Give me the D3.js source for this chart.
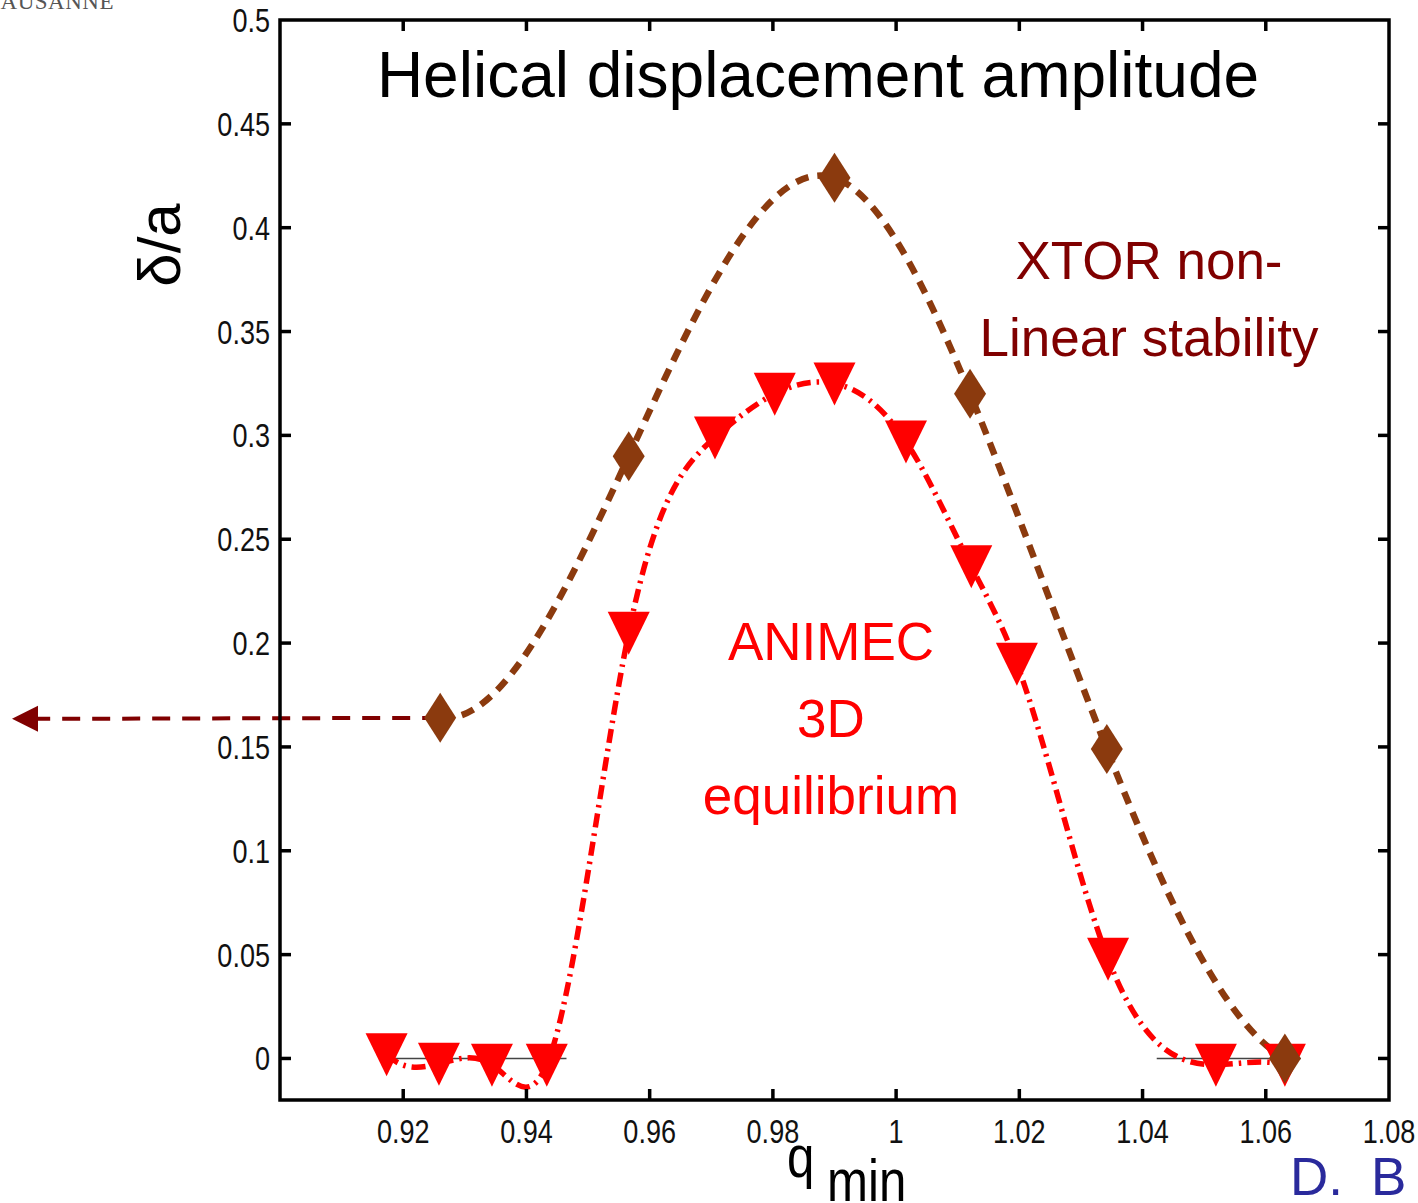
<!DOCTYPE html>
<html>
<head>
<meta charset="utf-8">
<script src="https://cdn.jsdelivr.net/npm/d3@7"></script>
<style>
  html, body { margin: 0; padding: 0; background: #fff; overflow: hidden; }
  svg { display: block; }
</style>
</head>
<body>
<svg id="chart" width="1418" height="1203"></svg>
<script>
// ---------- data ----------
const xTicks = [0.92, 0.94, 0.96, 0.98, 1.00, 1.02, 1.04, 1.06, 1.08];
const xTickLabels = ["0.92", "0.94", "0.96", "0.98", "1", "1.02", "1.04", "1.06", "1.08"];
const yTicks = [0, 0.05, 0.10, 0.15, 0.20, 0.25, 0.30, 0.35, 0.40, 0.45, 0.50];
const yTickLabels = ["0", "0.05", "0.1", "0.15", "0.2", "0.25", "0.3", "0.35", "0.4", "0.45", "0.5"];

// XTOR non-linear stability (diamonds)
const xtorQ = [0.926, 0.9566, 0.990, 1.012, 1.0342, 1.0631];
const xtorDelta = [0.164, 0.290, 0.424, 0.320, 0.149, 0.000];

// ANIMEC 3D equilibrium (triangles)
const animecQ = [0.9173, 0.9258, 0.9344, 0.9433, 0.9566, 0.9706, 0.9803, 0.990, 1.0016, 1.0122, 1.0196, 1.0344, 1.0519, 1.0631];
const animecDelta = [0.002, -0.0025, -0.003, -0.003, 0.205, 0.299, 0.320, 0.325, 0.297, 0.237, 0.190, 0.048, -0.003, -0.003];

// thin zero reference segments [qStart, qEnd]
const zeroSegments = [[0.9185, 0.9465], [1.0423, 1.0657]];

// ---------- layout ----------
const svg = d3.select("#chart");
const x = d3.scaleLinear().domain([0.90, 1.08]).range([280, 1389]);
const y = d3.scaleLinear().domain([-0.02, 0.50]).range([1100, 20]);

const brown = "#8b3a0e";
const maroon = "#800000";
const red = "#ff0000";
const sans = "'Liberation Sans', Arial, Helvetica, sans-serif";

// narrow text: Liberation Sans squeezed horizontally
function narrowText(parent, tx, ty, anchor, size, str, fill) {
  const g = parent.append("g").attr("transform", `translate(${tx},${ty}) scale(0.82,1)`);
  g.append("text").attr("x", 0).attr("y", 0).attr("text-anchor", anchor)
    .attr("font-family", sans).attr("font-size", size).attr("fill", fill || "#111")
    .text(str);
  return g;
}

// not-a-knot cubic spline curve (like MATLAB spline)
function curveNotAKnot(context) {
  let xs, ys;
  function slopes(X, Y) {
    const n = X.length, h = [];
    for (let i = 0; i < n - 1; i++) h.push(X[i + 1] - X[i]);
    const A = Array.from({length: n}, () => new Array(n).fill(0));
    const b = new Array(n).fill(0);
    A[0][0] = h[1]; A[0][1] = -(h[0] + h[1]); A[0][2] = h[0];
    for (let i = 1; i < n - 1; i++) {
      A[i][i - 1] = h[i - 1];
      A[i][i] = 2 * (h[i - 1] + h[i]);
      A[i][i + 1] = h[i];
      b[i] = 6 * ((Y[i + 1] - Y[i]) / h[i] - (Y[i] - Y[i - 1]) / h[i - 1]);
    }
    A[n - 1][n - 3] = h[n - 2]; A[n - 1][n - 2] = -(h[n - 3] + h[n - 2]); A[n - 1][n - 1] = h[n - 3];
    for (let c = 0; c < n; c++) {
      let p = c;
      for (let r = c + 1; r < n; r++) if (Math.abs(A[r][c]) > Math.abs(A[p][c])) p = r;
      [A[c], A[p]] = [A[p], A[c]]; [b[c], b[p]] = [b[p], b[c]];
      for (let r = c + 1; r < n; r++) {
        const f = A[r][c] / A[c][c];
        if (!f) continue;
        for (let k = c; k < n; k++) A[r][k] -= f * A[c][k];
        b[r] -= f * b[c];
      }
    }
    const M = new Array(n).fill(0);
    for (let r = n - 1; r >= 0; r--) {
      let s = b[r];
      for (let k = r + 1; k < n; k++) s -= A[r][k] * M[k];
      M[r] = s / A[r][r];
    }
    const m = [];
    for (let i = 0; i < n - 1; i++) m.push((Y[i + 1] - Y[i]) / h[i] - h[i] * (2 * M[i] + M[i + 1]) / 6);
    m.push((Y[n - 1] - Y[n - 2]) / h[n - 2] + h[n - 2] * (M[n - 2] + 2 * M[n - 1]) / 6);
    return m;
  }
  return {
    areaStart() {}, areaEnd() {},
    lineStart() { xs = []; ys = []; },
    point(px, py) { xs.push(+px); ys.push(+py); },
    lineEnd() {
      const n = xs.length;
      if (!n) return;
      context.moveTo(xs[0], ys[0]);
      if (n < 4) { for (let i = 1; i < n; i++) context.lineTo(xs[i], ys[i]); return; }
      const m = slopes(xs, ys);
      for (let i = 0; i < n - 1; i++) {
        const h = xs[i + 1] - xs[i];
        context.bezierCurveTo(xs[i] + h / 3, ys[i] + m[i] * h / 3,
                              xs[i + 1] - h / 3, ys[i + 1] - m[i + 1] * h / 3,
                              xs[i + 1], ys[i + 1]);
      }
    }
  };
}

// ---------- zero reference segments ----------
svg.append("g").selectAll("line").data(zeroSegments).join("line")
  .attr("x1", d => x(d[0])).attr("x2", d => x(d[1]))
  .attr("y1", y(0)).attr("y2", y(0))
  .attr("stroke", "#444").attr("stroke-width", 1.6);

// ---------- lines ----------
const xtorPts = xtorQ.map((q, i) => [q, xtorDelta[i]]);
const animecPts = animecQ.map((q, i) => [q, animecDelta[i]]);
const lineGen = d3.line().x(d => x(d[0])).y(d => y(d[1])).curve(curveNotAKnot);

svg.append("path").datum(animecPts).attr("d", lineGen)
  .attr("fill", "none").attr("stroke", red).attr("stroke-width", 5.5)
  .attr("stroke-dasharray", "14 6 2.5 6");

svg.append("path").datum(xtorPts).attr("d", lineGen)
  .attr("fill", "none").attr("stroke", brown).attr("stroke-width", 6.5)
  .attr("stroke-dasharray", "13 9");

// ---------- arrow from first XTOR point ----------
const arrowY = y(xtorDelta[0]);
svg.append("line")
  .attr("x1", x(xtorQ[0])).attr("x2", 36)
  .attr("y1", arrowY).attr("y2", arrowY + 1)
  .attr("stroke", maroon).attr("stroke-width", 4)
  .attr("stroke-dasharray", "18 12");
svg.append("path")
  .attr("d", `M12,${arrowY + 1} L38,${arrowY - 12} L38,${arrowY + 14} Z`)
  .attr("fill", maroon);

// ---------- markers ----------
svg.append("g").selectAll("path").data(animecPts).join("path")
  .attr("transform", d => `translate(${x(d[0])},${y(d[1])})`)
  .attr("d", "M-21,-21 L21,-21 L0,22 Z")
  .attr("fill", red);

svg.append("g").selectAll("path").data(xtorPts).join("path")
  .attr("transform", d => `translate(${x(d[0])},${y(d[1])})`)
  .attr("d", "M0,-25 L16,0 L0,25 L-16,0 Z")
  .attr("fill", brown);

// ---------- frame and ticks ----------
const [x0, x1] = x.range();
const [yb, yt] = y.range();
const frame = svg.append("g").attr("stroke", "#000").attr("stroke-width", 3.5);
frame.append("rect").attr("x", x0).attr("y", yt).attr("width", x1 - x0).attr("height", yb - yt)
  .attr("fill", "none");
const tl = 11;
frame.selectAll(".xb").data(xTicks.slice(0, -1)).join("line")
  .attr("x1", d => x(d)).attr("x2", d => x(d)).attr("y1", yb).attr("y2", yb - tl);
frame.selectAll(".xt").data(xTicks.slice(0, -1)).join("line")
  .attr("x1", d => x(d)).attr("x2", d => x(d)).attr("y1", yt).attr("y2", yt + tl);
frame.selectAll(".yl").data(yTicks.slice(0, -1)).join("line")
  .attr("y1", d => y(d)).attr("y2", d => y(d)).attr("x1", x0).attr("x2", x0 + tl);
frame.selectAll(".yr").data(yTicks.slice(0, -1)).join("line")
  .attr("y1", d => y(d)).attr("y2", d => y(d)).attr("x1", x1).attr("x2", x1 - tl);

// tick labels
const xLab = svg.append("g");
xTicks.forEach((t, i) => narrowText(xLab, x(t), 1143, "middle", 33, xTickLabels[i]));
const yLab = svg.append("g");
yTicks.forEach((t, i) => narrowText(yLab, 270, y(t) + 12, "end", 33, yTickLabels[i]));

// ---------- texts ----------
svg.append("text").attr("x", 818).attr("y", 97).attr("text-anchor", "middle")
  .attr("font-family", sans).attr("font-size", 64).attr("fill", "#000")
  .text("Helical displacement amplitude");

svg.append("text").attr("transform", "translate(180,245) rotate(-90)")
  .attr("text-anchor", "middle")
  .attr("font-family", sans).attr("font-size", 60).attr("fill", "#000")
  .text("δ/a");

narrowText(svg, 787, 1177, "start", 60, "q", "#000");
narrowText(svg, 827, 1201, "start", 60, "min", "#000");

const xtorLabel = ["XTOR non-", "Linear stability"];
svg.append("g").selectAll("text").data(xtorLabel).join("text")
  .attr("x", 1149).attr("y", (d, i) => 279 + i * 77)
  .attr("text-anchor", "middle")
  .attr("font-family", sans).attr("font-size", 53).attr("fill", maroon)
  .text(d => d);

const animecLabel = ["ANIMEC", "3D", "equilibrium"];
svg.append("g").selectAll("text").data(animecLabel).join("text")
  .attr("x", 831).attr("y", (d, i) => 660 + i * 77)
  .attr("text-anchor", "middle")
  .attr("font-family", sans).attr("font-size", 53).attr("fill", red)
  .text(d => d);

svg.append("text").attr("x", 1290).attr("y", 1195)
  .attr("font-family", sans).attr("font-size", 53).attr("fill", "#2a2a9c")
  .text("D.");
svg.append("text").attr("x", 1371).attr("y", 1195)
  .attr("font-family", sans).attr("font-size", 53).attr("fill", "#2a2a9c")
  .text("B");

svg.append("text").attr("x", -14).attr("y", 9)
  .attr("font-family", "'Liberation Serif', 'Times New Roman', serif")
  .attr("font-size", 23).attr("letter-spacing", 0.5).attr("fill", "#555")
  .text("LAUSANNE");
</script>
</body>
</html>
